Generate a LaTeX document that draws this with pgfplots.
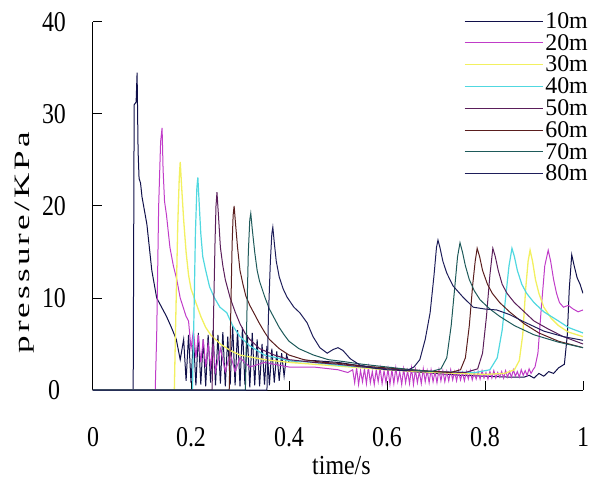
\documentclass[border=0pt]{standalone}
\usepackage{pgfplots}
\pgfplotsset{compat=1.18}
\usepackage{fontspec}
\setmainfont{Liberation Serif}
\newfontfamily\lsfont[LetterSpace=9]{Liberation Serif}
\definecolor{c10}{HTML}{10104A}
\definecolor{c20}{HTML}{C03CC8}
\definecolor{c30}{HTML}{F2F060}
\definecolor{c40}{HTML}{50D8E0}
\definecolor{c50}{HTML}{5A1E5A}
\definecolor{c60}{HTML}{5A1E1E}
\definecolor{c70}{HTML}{1E5A5A}
\definecolor{c80}{HTML}{1E1E5A}
\newcommand{\tl}[1]{\scalebox{1}[1.2]{#1}}
\begin{document}
\begin{tikzpicture}
\path[use as bounding box] (-93bp,-101bp) rectangle (500bp,390bp);
\begin{axis}[
  at={(0,0)}, anchor=south west,
  scale only axis, width=490bp, height=368bp,
  xmin=0, xmax=1, ymin=0, ymax=40,
  axis x line=bottom, axis y line=left,
  axis line style={-, line width=1bp, black},
  xtick={0,0.2,0.4,0.6,0.8,1}, ytick={0,10,20,30,40},
  xticklabels={\tl{0},\tl{0.2},\tl{0.4},\tl{0.6},\tl{0.8},\tl{1}},
  yticklabels={\tl{0},\tl{10},\tl{20},\tl{30},\tl{40}},
  tick align=inside, major tick length=9bp,
  tick style={line width=1bp, black},
  xticklabel style={font=\fontsize{24}{24}\selectfont, anchor=center, yshift=-47bp},
  yticklabel style={font=\fontsize{24}{24}\selectfont, anchor=center, xshift=-39bp},
  xlabel={\scalebox{1}[1.15]{time/s}}, ylabel={\scalebox{1.6}[1]{\lsfont pressure/KPa}},
  xlabel style={font=\fontsize{24}{24}\selectfont, at={(axis description cs:0.507,-0.205)}, anchor=center},
  ylabel style={font=\fontsize{22}{22}\selectfont, at={(axis description cs:-0.1388,0.4)}, anchor=center},
  legend style={draw=none, fill=none, at={(1.0143,1.032)}, anchor=north east,
    font=\fontsize{24}{22}\selectfont, row sep=0.4bp, inner sep=0pt},
  legend cell align=left,
  legend image code/.code={\draw[#1] (0bp,0bp) -- (78bp,0bp);},
  every axis plot/.append style={line width=1bp},
  clip=true,
]
\addplot[c10] coordinates {
(0,0) (0.082,0) (0.084,31) (0.088,31.3) (0.090,34.5) (0.092,26) (0.094,23) (0.097,22.5)
(0.100,21) (0.105,19.5) (0.110,18) (0.115,15.5) (0.120,13) (0.125,11.5) (0.130,10)
(0.140,9) (0.150,8) (0.160,6.8) (0.170,5.5) (0.178,3.3) (0.185,5.5) (0.190,1.0)
(0.195,6.0) (0.200,0.8) (0.205,5.8) (0.210,0.5) (0.215,6.2) (0.220,0.6) (0.225,5.5)
(0.230,0.4) (0.235,6.0) (0.240,0.8) (0.245,6.5) (0.250,0.5) (0.255,6.0) (0.260,0.7)
(0.265,6.3) (0.270,0.4) (0.275,5.8) (0.280,0.6) (0.285,7.0) (0.290,0.5) (0.295,6.5)
(0.300,0.4) (0.305,6.8) (0.310,0.6) (0.315,6.0) (0.320,0.3) (0.325,6.2) (0.330,0.5)
(0.335,5.5) (0.340,0.4) (0.345,5.0) (0.350,0.6) (0.355,4.8) (0.360,0.5) (0.365,4.5)
(0.370,0.8) (0.375,4.2) (0.380,1.0) (0.385,4.0) (0.390,1.5) (0.395,3.8) (0.400,3.0)
(0.45,3.2) (0.5,3.0) (0.55,2.6) (0.6,2.3) (0.65,2.0) (0.7,1.8) (0.75,1.6) (0.8,1.5)
(0.85,1.4) (0.88,1.4) (0.89,1.6) (0.90,1.3) (0.91,1.8) (0.92,1.5) (0.93,2.0) (0.94,1.8)
(0.95,2.4) (0.962,2.8) (0.968,6) (0.972,11) (0.977,14.7)
(0.982,13.5) (0.988,12.2) (0.994,11.5) (1.0,10.5)};
\addlegendentry{10m}
\addplot[c20] coordinates {
(0,0) (0.127,0) (0.130,6) (0.134,20) (0.138,27) (0.141,28.5) (0.143,24) (0.146,20.5)
(0.150,19) (0.157,15.5) (0.164,13.5) (0.171,12) (0.178,10) (0.184,9) (0.190,8) (0.195,7.5)
(0.200,4.5) (0.205,6.5) (0.210,3.5) (0.215,6) (0.220,3) (0.225,5.5) (0.230,2.5) (0.235,5)
(0.240,2.5) (0.245,5) (0.250,2) (0.26,4.5) (0.27,2) (0.28,4) (0.29,2) (0.30,3.5) (0.32,2.5)
(0.35,3) (0.40,2.5) (0.45,2.5) (0.50,2.2) (0.52,1.9)
(0.530,2.2) (0.534,0.8) (0.538,2.4) (0.542,0.6) (0.546,2.1) (0.550,0.9) (0.554,2.3)
(0.558,0.7) (0.562,2.5) (0.566,0.8) (0.570,2.0) (0.574,0.6) (0.578,2.2) (0.582,0.9)
(0.586,2.4) (0.590,0.7) (0.594,2.1) (0.598,0.8) (0.602,2.3) (0.606,0.6) (0.610,2.2)
(0.614,0.7) (0.618,2.4) (0.622,0.9) (0.626,2.0) (0.630,0.6) (0.634,2.3) (0.638,0.8)
(0.642,2.1) (0.646,0.7) (0.650,2.4) (0.654,0.6) (0.658,2.2) (0.662,0.8) (0.666,2.0)
(0.670,0.7) (0.674,2.3) (0.678,0.9) (0.682,2.1) (0.686,0.8) (0.690,2.2) (0.694,0.9)
(0.698,2.0) (0.702,0.8) (0.706,2.2) (0.710,1.0) (0.714,2.1) (0.718,0.9) (0.722,2.0)
(0.726,1.0) (0.730,2.2) (0.734,1.1) (0.738,2.0) (0.742,1.0) (0.746,2.1) (0.750,1.1)
(0.754,1.9) (0.758,1.0) (0.762,2.0) (0.766,1.2) (0.770,2.1) (0.774,1.1) (0.778,1.9)
(0.782,1.2) (0.786,2.0) (0.790,1.2) (0.794,2.1) (0.798,1.3) (0.802,1.9) (0.806,1.2)
(0.810,2.0) (0.814,1.3) (0.818,2.1) (0.822,1.3) (0.826,1.9) (0.830,1.4) (0.834,2.0)
(0.838,1.3) (0.842,2.1) (0.846,1.4) (0.850,2.0) (0.854,1.4) (0.858,2.2) (0.862,1.5)
(0.866,2.0) (0.870,1.4) (0.874,2.2) (0.878,1.6) (0.882,2.1) (0.886,1.6) (0.890,2.3)
(0.894,1.8) (0.898,2.2) (0.902,2.5)
(0.908,4) (0.915,9) (0.922,13.5) (0.929,15.2) (0.934,14)
(0.940,12) (0.946,10.5) (0.952,9.5) (0.96,9) (0.97,9.2) (0.98,8.8) (0.99,8.5) (1.0,8.7)};
\addlegendentry{20m}
\addplot[c30, line width=1.3bp] coordinates {
(0,0) (0.166,0) (0.169,8) (0.173,18) (0.176,23) (0.178,24.8) (0.181,22) (0.185,18.5)
(0.190,15) (0.195,12.5) (0.200,11) (0.210,9.5) (0.220,8) (0.230,6.8) (0.240,6) (0.260,5)
(0.280,4.3) (0.300,3.8) (0.350,3.3) (0.400,3) (0.450,2.8) (0.500,2.6) (0.600,2.2)
(0.700,1.9) (0.800,1.7) (0.840,1.8) (0.860,2.2) (0.870,3.2) (0.877,6) (0.883,11)
(0.888,14) (0.892,15.2) (0.897,14) (0.903,12) (0.910,10.5) (0.920,9) (0.935,7.8)
(0.950,7) (0.970,6.3) (1.0,5.8)};
\addlegendentry{30m}
\addplot[c40, line width=1.2bp] coordinates {
(0,0) (0.203,0) (0.206,8) (0.209,17) (0.212,22) (0.214,23.1) (0.217,20) (0.220,17)
(0.224,14.5) (0.230,13) (0.238,11.2) (0.248,10) (0.259,9) (0.273,8.4) (0.285,7)
(0.300,5.8) (0.320,4.8) (0.350,3.8) (0.400,3.2) (0.450,3.0) (0.500,2.7) (0.600,2.3)
(0.700,2.0) (0.780,1.9) (0.810,2.2) (0.825,3.5) (0.835,6.5) (0.843,10.5) (0.849,13.5)
(0.855,15.4) (0.860,14.5) (0.866,13) (0.875,11.5) (0.885,10.5) (0.900,9.5) (0.92,8.5)
(0.95,7.5) (0.97,6.8) (1.0,6.2)};
\addlegendentry{40m}
\addplot[c50] coordinates {
(0,0) (0.243,0) (0.246,8) (0.249,16) (0.251,20) (0.253,21.5) (0.256,19) (0.260,15.5)
(0.265,13.5) (0.270,12) (0.280,10) (0.290,8.5) (0.300,7.2) (0.310,6.2) (0.320,5.5)
(0.340,4.5) (0.370,3.8) (0.400,3.3) (0.450,3.0) (0.500,2.8) (0.550,2.5) (0.600,2.3)
(0.650,2.1) (0.700,2.0) (0.760,1.9) (0.785,2.3) (0.795,4) (0.803,8) (0.810,12.5)
(0.816,15.4) (0.821,14.5) (0.827,13) (0.835,11.5) (0.845,10.5) (0.860,9.5) (0.880,8.5)
(0.900,7.5) (0.930,6.6) (0.960,5.8) (1.0,5.0)};
\addlegendentry{50m}
\addplot[c60] coordinates {
(0,0) (0.278,0) (0.281,8) (0.284,16) (0.286,19) (0.288,20) (0.291,18) (0.295,15.5)
(0.300,13) (0.306,11.5) (0.312,10.2) (0.320,9.2) (0.330,8.2) (0.340,7.2) (0.350,6.3)
(0.360,5.5) (0.380,4.5) (0.400,3.8) (0.430,3.3) (0.470,3.0) (0.500,2.9) (0.550,2.6)
(0.600,2.4) (0.650,2.2) (0.700,2.0) (0.730,1.9) (0.750,2.2) (0.760,3.5) (0.768,7)
(0.775,11.5) (0.780,14) (0.784,15.4) (0.789,14.5) (0.795,13) (0.805,11.5) (0.815,10.5)
(0.830,9.5) (0.850,8.5) (0.880,7.2) (0.910,6.2) (0.950,5.3) (1.0,4.6)};
\addlegendentry{60m}
\addplot[c70] coordinates {
(0,0) (0.311,0) (0.314,8) (0.317,15) (0.320,18.5) (0.322,19.2) (0.325,17.5) (0.330,15)
(0.335,13) (0.340,11.8) (0.350,10.2) (0.360,8.8) (0.370,7.8) (0.380,6.8) (0.390,6)
(0.400,5.3) (0.420,4.5) (0.450,3.8) (0.480,3.3) (0.510,3.1) (0.550,2.8) (0.600,2.5)
(0.650,2.2) (0.690,2.0) (0.710,2.3) (0.722,3.5) (0.731,7) (0.738,11) (0.744,14.5)
(0.749,16) (0.754,15) (0.760,13.5) (0.768,12) (0.778,10.8) (0.790,9.8) (0.810,8.8)
(0.830,8.0) (0.860,7.0) (0.900,6.0) (0.950,5.2) (1.0,4.6)};
\addlegendentry{70m}
\addplot[c80] coordinates {
(0,0) (0.355,0) (0.358,8) (0.362,14) (0.365,17) (0.367,17.7) (0.370,16) (0.374,14)
(0.380,12.3) (0.388,11) (0.396,10.1) (0.410,9) (0.422,8.4) (0.437,7.3) (0.449,5.8)
(0.463,4.6) (0.478,4.0) (0.490,4.4) (0.500,4.6) (0.510,4.3) (0.525,3.4) (0.545,2.7)
(0.570,2.4) (0.600,2.2) (0.640,2.1) (0.655,2.5) (0.667,3.3) (0.678,5.5) (0.688,8.4)
(0.696,12.5) (0.701,15.5) (0.704,16.3) (0.708,15.5) (0.714,14) (0.722,12.7) (0.735,11.3)
(0.755,10.1) (0.776,9) (0.800,8.8) (0.824,8.7) (0.850,8.2) (0.880,7.4) (0.920,6.4)
(0.960,5.8) (1.0,5.4)};
\addlegendentry{80m}
\end{axis}
\end{tikzpicture}
\end{document}
